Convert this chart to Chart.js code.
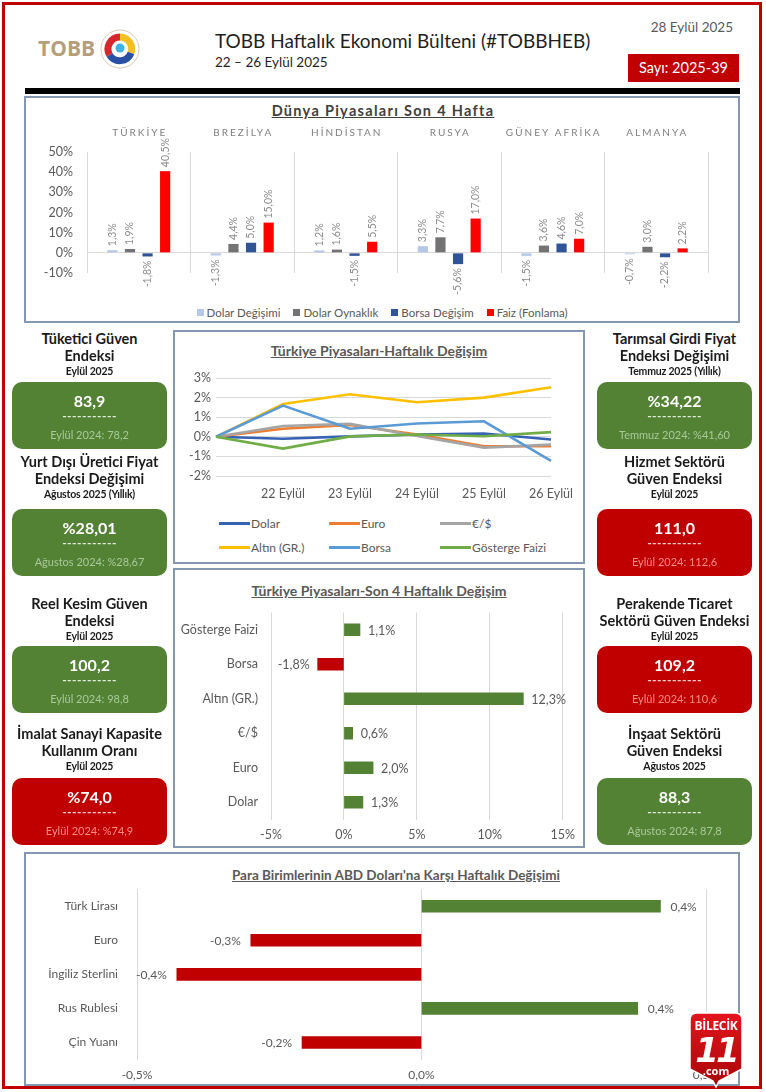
<!DOCTYPE html>
<html><head><meta charset="utf-8">
<script src="https://cdn.jsdelivr.net/npm/chart.js@4.4.1/dist/chart.umd.min.js"></script>
<style>
html,body{margin:0;padding:0;background:#fff;}
#page{position:relative;width:766px;height:1092px;overflow:hidden;font-family:Lato,'Open Sans',sans-serif;color:#262626;}
.a{position:absolute;white-space:nowrap;}
.frame{left:2px;top:2px;width:760px;height:1087px;border:3px solid #c00000;box-sizing:border-box;}
.box{border:2px solid #8497b0;box-sizing:border-box;background:#fff;}
.ct{position:absolute;left:0;right:0;text-align:center;font-weight:bold;text-decoration:underline;color:#595959;white-space:nowrap;}
canvas{position:absolute;}
.kt{position:absolute;text-align:center;font-weight:bold;color:#1a1a1a;white-space:nowrap;}
.kb{position:absolute;border-radius:10px;text-align:center;color:#fff;}
.lg{position:absolute;font-size:12px;color:#595959;display:flex;align-items:center;white-space:nowrap;}
</style></head>
<body><div id="page">
<div class="a frame"></div>

<div class="a" style="left:38px;top:33px;font-family:'Open Sans';font-weight:bold;font-size:21px;line-height:30px;color:#b59f7b;">TOBB</div>
<svg class="a" style="left:100px;top:29px" width="40" height="40" viewBox="0 0 40 40">
  <circle cx="20" cy="20" r="19" fill="#fff" stroke="#d8c8b4" stroke-width="1"/>
  <circle cx="20" cy="20" r="14" fill="none" stroke="#e6dccf" stroke-width="0.8"/>
  <path d="M20 8 A12 12 0 0 0 9.6 26" fill="none" stroke="#d7262d" stroke-width="7"/>
  <path d="M20 8 A12 12 0 0 1 31 24" fill="none" stroke="#f2c021" stroke-width="7"/>
  <path d="M31 24 A12 12 0 0 1 9.6 26" fill="none" stroke="#2b4fa2" stroke-width="7"/>
  <circle cx="20" cy="19" r="4.5" fill="#3db4e5"/>
</svg>
<div class="a" style="left:215px;top:28px;font-size:19px;line-height:26px;color:#1f1f1f;">TOBB Haftalık Ekonomi Bülteni (#TOBBHEB)</div>
<div class="a" style="left:215px;top:53px;font-size:13.5px;line-height:18px;color:#1f1f1f;">22 – 26 Eylül 2025</div>
<div class="a" style="right:33px;top:18px;font-size:13.5px;line-height:18px;color:#595959;">28 Eylül 2025</div>
<div class="a" style="left:628px;top:54px;width:111px;height:28px;background:#c00000;color:#fff;font-size:14.5px;line-height:28px;text-align:center;">Sayı: 2025-39</div>
<div class="a" style="left:25px;top:88px;width:715px;height:6px;background:#000;"></div>

<!-- top chart box -->
<div class="a box" style="left:24px;top:96px;width:716px;height:227px;"></div>
<div class="ct" style="top:101px;font-size:14.5px;line-height:20px;letter-spacing:1.3px;color:#404040;">Dünya Piyasaları Son 4 Hafta</div>
<canvas id="c1" width="712" height="200" style="left:26px;top:100px;"></canvas>
<div id="lg1" class="a" style="left:24px;width:716px;top:303px;height:18px;display:flex;justify-content:center;gap:13px;font-size:11.5px;color:#595959;align-items:center;"></div>

<!-- line chart box -->
<div class="a box" style="left:173px;top:330px;width:412px;height:234px;"></div>
<div class="ct" style="left:173px;width:412px;top:341px;font-size:14px;line-height:20px;">Türkiye Piyasaları-Haftalık Değişim</div>
<canvas id="c2" width="408" height="140" style="left:175px;top:365px;"></canvas>
<div id="lg2"></div>

<!-- bar chart box -->
<div class="a box" style="left:173px;top:568px;width:412px;height:280px;"></div>
<div class="ct" style="left:173px;width:412px;top:581px;font-size:14px;line-height:20px;">Türkiye Piyasaları-Son 4 Haftalık Değişim</div>
<canvas id="c3" width="408" height="240" style="left:175px;top:605px;"></canvas>

<!-- bottom chart box -->
<div class="a box" style="left:24px;top:852px;width:716px;height:234px;"></div>
<div class="ct" style="left:38px;width:716px;top:865px;font-size:13.5px;line-height:20px;">Para Birimlerinin ABD Doları'na Karşı Haftalık Değişimi</div>
<canvas id="c4" width="711" height="205" style="left:27px;top:882px;"></canvas>

<div id="kpi"></div>

<svg class="a" style="left:688px;top:1011px" width="56" height="78" viewBox="0 0 56 78">
  <defs><linearGradient id="bg" x1="0" y1="0" x2="0" y2="1"><stop offset="0" stop-color="#e3151b"/><stop offset="1" stop-color="#a8060b"/></linearGradient></defs>
  <path d="M9 2 H47 Q54 2 54 9 V58 L31 70 L28 76 L25 70 L2 58 V9 Q2 2 9 2 Z" fill="url(#bg)" stroke="#fff" stroke-width="1.5"/>
  <text x="28" y="19" text-anchor="middle" font-family="'Open Sans'" font-weight="bold" font-size="12" fill="#fff" letter-spacing="-0.3">BİLECİK</text>
  <text x="28" y="51" text-anchor="middle" font-family="'DejaVu Sans'" font-style="italic" font-weight="bold" font-size="34" fill="#fff" letter-spacing="-3">11</text>
  <text x="28" y="64" text-anchor="middle" font-family="'Open Sans'" font-weight="bold" font-size="11" fill="#fff">.com</text>
</svg>
</div>

<script>
// ---------- DATA ----------
const countries = ['TÜRKİYE','BREZİLYA','HİNDİSTAN','RUSYA','GÜNEY AFRİKA','ALMANYA'];
const dolarDegisimi = [1.3,-1.3,1.2,3.3,-1.5,-0.7];
const dolarOynaklik = [1.9,4.4,1.6,7.7,3.6,3.0];
const borsaDegisim = [-1.8,5.0,-1.5,-5.6,4.6,-2.2];
const faizFonlama = [40.5,15.0,5.5,17.0,7.0,2.2];
const worldSeriesNames = ['Dolar Değişimi','Dolar Oynaklık','Borsa Değişim','Faiz (Fonlama)'];

const days = ['','22 Eylül','23 Eylül','24 Eylül','25 Eylül','26 Eylül'];
const lineDolar  = [0,-0.10,0.02,0.12,0.17,-0.14];
const lineEuro   = [0,0.41,0.60,0.12,-0.48,-0.48];
const lineEurUsd = [0,0.55,0.66,0.04,-0.55,-0.40];
const lineAltin  = [0,1.67,2.17,1.76,2.00,2.53];
const lineBorsa  = [0,1.59,0.41,0.68,0.79,-1.23];
const lineFaiz   = [0,-0.60,0.02,0.12,0.03,0.24];
const lineNames  = ['Dolar','Euro','€/$','Altın (GR.)','Borsa','Gösterge Faizi'];

const marketCats = ['Gösterge Faizi','Borsa','Altın (GR.)','€/$','Euro','Dolar'];
const marketChange = [1.1,-1.8,12.3,0.6,2.0,1.3];

const currencyCats = ['Türk Lirası','Euro','İngiliz Sterlini','Rus Rublesi','Çin Yuanı'];
const currencyChange = [0.42,-0.30,-0.43,0.38,-0.21];

const kpiLeftTitles = [['Tüketici Güven','Endeksi'],['Yurt Dışı Üretici Fiyat','Endeksi Değişimi'],['Reel Kesim Güven','Endeksi'],['İmalat Sanayi Kapasite','Kullanım Oranı']];
const kpiLeftPeriods = ['Eylül 2025','Ağustos 2025 (Yıllık)','Eylül 2025','Eylül 2025'];
const kpiLeftValues = ['83,9','%28,01','100,2','%74,0'];
const kpiLeftPrev = ['Eylül 2024: 78,2','Ağustos 2024: %28,67','Eylül 2024: 98,8','Eylül 2024: %74,9'];
const kpiLeftUp = [true,true,true,false];

const kpiRightTitles = [['Tarımsal Girdi Fiyat','Endeksi Değişimi'],['Hizmet Sektörü','Güven Endeksi'],['Perakende Ticaret','Sektörü Güven Endeksi'],['İnşaat Sektörü','Güven Endeksi']];
const kpiRightPeriods = ['Temmuz 2025 (Yıllık)','Eylül 2025','Eylül 2025','Ağustos 2025'];
const kpiRightValues = ['%34,22','111,0','109,2','88,3'];
const kpiRightPrev = ['Temmuz 2024: %41,60','Eylül 2024: 112,6','Eylül 2024: 110,6','Ağustos 2024: 87,8'];
const kpiRightUp = [true,false,false,true];

// ---------- STYLE ----------
const GREEN = '#548235', RED = '#c00000', TXT = '#595959', GRID = '#d9d9d9';
const worldColors = ['#b4c7e7','#737373','#2f5597','#ff0000'];
const lineColors = ['#3562b5','#ed7d31','#a5a5a5','#ffc000','#5b9bd5','#70ad47'];
const fmt = v => v.toFixed(1).replace('.', ',') + '%';
const FONT = 'Lato';
const NONE = 'rgba(0,0,0,0)';

// ---------- KPI ----------
(function(){
  const host = document.getElementById('kpi');
  const titleTops = [339,462,604,734];
  const boxTops = [382,509,646,778];
  function col(titles, periods, values, prev, up, left, width){
    titles.forEach((t,i)=>{
      const y = titleTops[i];
      const cx = left + width/2;
      t.forEach((line,j)=>{
        const d = document.createElement('div');
        d.className='kt';
        d.style.cssText += `left:${cx-100}px;width:200px;top:${y-9+j*17}px;font-size:14.5px;line-height:18px;`;
        d.textContent = line; host.appendChild(d);
      });
      const p = document.createElement('div');
      p.className='kt';
      p.style.cssText += `left:${cx-100}px;width:200px;top:${y+25}px;font-size:10.5px;line-height:14px;letter-spacing:-0.2px;`;
      p.textContent = periods[i]; host.appendChild(p);
      const b = document.createElement('div');
      b.className='kb';
      const g = up[i];
      b.style.cssText += `left:${left}px;top:${boxTops[i]}px;width:${width}px;height:67px;background:${g?GREEN:RED};`;
      b.innerHTML = `<div style="position:absolute;left:0;right:0;top:9px;font-size:16px;line-height:20px;font-weight:bold;">${values[i]}</div>`+
        `<div style="position:absolute;left:0;right:0;top:27px;font-size:12px;line-height:14px;font-weight:bold;color:${g?'#e2efda':'#ffd0d0'};letter-spacing:0.5px;">-----------</div>`+
        `<div style="position:absolute;left:0;right:0;top:45px;font-size:11px;line-height:16px;color:${g?'#a9c99a':'#ff8a8a'};">${prev[i]}</div>`;
      host.appendChild(b);
    });
  }
  col(kpiLeftTitles,kpiLeftPeriods,kpiLeftValues,kpiLeftPrev,kpiLeftUp,12,155);
  col(kpiRightTitles,kpiRightPeriods,kpiRightValues,kpiRightPrev,kpiRightUp,597,155);
})();

// ---------- LEGENDS ----------
(function(){
  const lg1 = document.getElementById('lg1');
  worldSeriesNames.forEach((n,i)=>{
    const s = document.createElement('div');
    s.style.cssText='display:flex;align-items:center;';
    s.innerHTML = `<span style="display:inline-block;width:7px;height:7px;background:${worldColors[i]};margin-right:3px;"></span>${n}`;
    lg1.appendChild(s);
  });
  const lg2 = document.getElementById('lg2');
  const colsX = [219,329,440], rowsY = [523,547];
  lineNames.forEach((n,i)=>{
    const d = document.createElement('div');
    d.className='lg';
    d.style.left = colsX[i%3]+'px';
    d.style.top = (rowsY[Math.floor(i/3)]-9)+'px';
    d.style.height='18px';
    d.innerHTML = `<span style="display:inline-block;width:31px;height:3px;background:${lineColors[i]};margin-right:1px;"></span>${n}`;
    lg2.appendChild(d);
  });
})();

Chart.defaults.font.family = FONT;
Chart.defaults.color = TXT;
Chart.defaults.animation = false;
Chart.defaults.plugins.legend.display = false;
Chart.defaults.plugins.tooltip.enabled = false;

// vertical bar labels + top category labels
const worldLabels = {
  id:'worldLabels',
  afterDatasetsDraw(chart){
    const ctx = chart.ctx;
    ctx.save();
    ctx.font = `10.5px ${FONT}`;
    ctx.fillStyle = '#8c8c8c';
    ctx.textBaseline = 'middle';
    chart.data.datasets.forEach((ds,di)=>{
      chart.getDatasetMeta(di).data.forEach((el,i)=>{
        const v = ds.data[i];
        ctx.save();
        ctx.translate(el.x, v>=0 ? el.y-4 : el.y+4);
        ctx.rotate(-Math.PI/2);
        ctx.textAlign = v>=0 ? 'left' : 'right';
        ctx.fillText(fmt(v),0,0);
        ctx.restore();
      });
    });
    const xs = chart.scales.x;
    ctx.font = `10px ${FONT}`;
    ctx.fillStyle = '#7f7f7f';
    ctx.letterSpacing = '2px';
    ctx.textAlign = 'center';
    chart.data.labels.forEach((lab,i)=>{
      ctx.fillText(lab, xs.getPixelForValue(i)+1, chart.chartArea.top-19);
    });
    ctx.restore();
  }
};

// horizontal bar labels
const hbarLabels = (size, off) => ({
  id:'hbarLabels',
  afterDatasetsDraw(chart){
    const ctx = chart.ctx;
    ctx.save();
    ctx.font = `${size}px ${FONT}`;
    ctx.fillStyle = TXT;
    ctx.textBaseline = 'middle';
    chart.data.datasets.forEach((ds,di)=>{
      chart.getDatasetMeta(di).data.forEach((el,i)=>{
        const v = ds.data[i];
        ctx.textAlign = v>=0 ? 'left' : 'right';
        ctx.fillText(fmt(v), v>=0 ? el.x+off : el.x-off, el.y+1);
      });
    });
    ctx.restore();
  }
});

// ---------- CHART 1 ----------
new Chart(document.getElementById('c1'), {
  type:'bar',
  data:{labels:countries, datasets:[
    {label:worldSeriesNames[0], data:dolarDegisimi, backgroundColor:worldColors[0]},
    {label:worldSeriesNames[1], data:dolarOynaklik, backgroundColor:worldColors[1]},
    {label:worldSeriesNames[2], data:borsaDegisim, backgroundColor:worldColors[2]},
    {label:worldSeriesNames[3], data:faizFonlama, backgroundColor:worldColors[3]}
  ]},
  options:{
    responsive:false,
    categoryPercentage:0.68, barPercentage:0.58,
    layout:{padding:{top:52,bottom:27,right:30,left:0}},
    scales:{
      x:{ticks:{display:false}, grid:{color:GRID, offset:true, drawTicks:false}, border:{display:false}},
      y:{min:-10,max:50, ticks:{stepSize:10, callback:v=>v+'%', font:{size:12.5}, color:TXT, padding:14},
         grid:{color:c=>c.tick && c.tick.value===0 ? GRID : NONE, drawTicks:false}, border:{display:false},
         afterFit:s=>{s.width=61;}}
    }
  },
  plugins:[worldLabels]
});

// ---------- CHART 2 ----------
const lineSeries = [lineDolar,lineEuro,lineEurUsd,lineAltin,lineBorsa,lineFaiz];
new Chart(document.getElementById('c2'), {
  type:'line',
  data:{labels:days, datasets:lineSeries.map((d,i)=>({label:lineNames[i], data:d, borderColor:lineColors[i], backgroundColor:lineColors[i], borderWidth:2.6, pointRadius:0, tension:0, order:6-i}))},
  options:{
    responsive:false,
    layout:{padding:{top:13,right:30,left:0,bottom:0}},
    scales:{
      x:{offset:false, grid:{display:false, drawTicks:false}, border:{display:false},
         ticks:{font:{size:12.5}, color:TXT, padding:10, maxRotation:0, autoSkip:false}, afterFit:s=>{s.height=29;}},
      y:{min:-2,max:3, ticks:{stepSize:1, callback:v=>v+'%', font:{size:12.5}, color:TXT, padding:5},
         grid:{color:GRID, drawTicks:false}, border:{display:false}, afterFit:s=>{s.width=41;}}
    }
  }
});

// ---------- CHART 3 ----------
new Chart(document.getElementById('c3'), {
  type:'bar',
  data:{labels:marketCats, datasets:[{data:marketChange, backgroundColor:marketChange.map(v=>v>=0?GREEN:RED), barThickness:12}]},
  options:{
    indexAxis:'y', responsive:false,
    layout:{padding:{top:7,right:14,left:0,bottom:0}},
    scales:{
      x:{min:-5,max:15, ticks:{stepSize:5, callback:v=>v+'%', font:{size:12.5}, color:TXT, padding:8},
         grid:{color:GRID, drawTicks:false}, border:{display:false}, afterFit:s=>{s.height=25.5;}},
      y:{grid:{display:true, color:NONE, tickColor:NONE, drawTicks:true, tickLength:13}, border:{display:false},
         ticks:{font:{size:12.5}, color:TXT, padding:0}, afterFit:s=>{s.width=96;}}
    }
  },
  plugins:[hbarLabels(12.5,8)]
});

// ---------- CHART 4 ----------
new Chart(document.getElementById('c4'), {
  type:'bar',
  data:{labels:currencyCats, datasets:[{data:currencyChange, backgroundColor:currencyChange.map(v=>v>=0?GREEN:RED), barThickness:12}]},
  options:{
    indexAxis:'y', responsive:false,
    layout:{padding:{top:4,right:32,left:0,bottom:0}},
    scales:{
      x:{min:-0.5,max:0.5, ticks:{stepSize:0.5, callback:v=>fmt(v), font:{size:12}, color:TXT, padding:8},
         grid:{color:GRID, drawTicks:false}, border:{display:false}, afterFit:s=>{s.height=27.5;}},
      y:{grid:{display:true, color:NONE, tickColor:NONE, drawTicks:true, tickLength:19}, border:{display:false},
         ticks:{font:{size:12}, color:TXT, padding:0}, afterFit:s=>{s.width=110;}}
    }
  },
  plugins:[hbarLabels(12,10)]
});
</script>
</body></html>
